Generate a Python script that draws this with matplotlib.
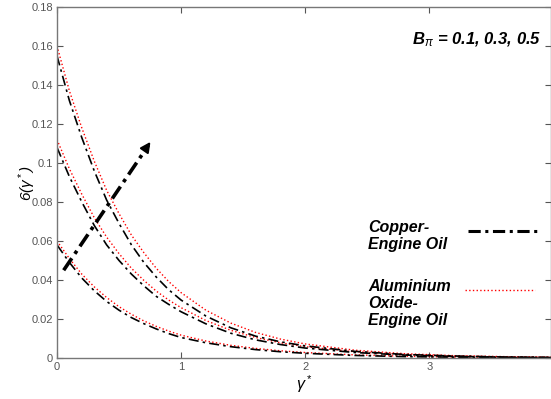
import matplotlib
matplotlib.use('Agg')
import matplotlib.pyplot as plt

plt.rcParams['font.family'] = ['Liberation Sans', 'DejaVu Sans']
plt.rcParams['mathtext.fontset'] = 'custom'
plt.rcParams['mathtext.rm'] = 'Liberation Sans'
plt.rcParams['mathtext.it'] = 'Liberation Sans:italic'
plt.rcParams['mathtext.bf'] = 'Liberation Sans:bold:italic'

# similarity variable
eta = [0, 0.1, 0.2, 0.3, 0.4, 0.5, 0.6, 0.7, 0.8, 0.9, 1.0,
       1.2, 1.4, 1.6, 1.8, 2.0, 2.4, 2.8, 3.2, 3.6, 4.0]

# Copper - Engine Oil, B = 0.1, 0.3, 0.5
cu_01 = [0.058, 0.049, 0.041, 0.0345, 0.029, 0.0245, 0.0207, 0.0176, 0.0149, 0.0125, 0.0105,
         0.0078, 0.0058, 0.0043, 0.0032, 0.0024, 0.0013, 0.0007, 0.0004, 0.0002, 0.0001]
cu_03 = [0.108, 0.093, 0.080, 0.068, 0.058, 0.050, 0.043, 0.037, 0.0316, 0.0275, 0.0237,
         0.0175, 0.0127, 0.0093, 0.0069, 0.0051, 0.0028, 0.0015, 0.0008, 0.0004, 0.0002]
cu_05 = [0.155, 0.132, 0.113, 0.096, 0.081, 0.069, 0.058, 0.049, 0.0415, 0.035, 0.0297,
         0.0215, 0.0155, 0.0112, 0.0083, 0.0062, 0.0034, 0.0018, 0.0010, 0.0005, 0.0003]

# Aluminium Oxide - Engine Oil, B = 0.1, 0.3, 0.5
al_01 = [0.060, 0.051, 0.043, 0.0365, 0.031, 0.0263, 0.0224, 0.019, 0.0162, 0.0138, 0.0117,
         0.0087, 0.0065, 0.0049, 0.0037, 0.0028, 0.0016, 0.0009, 0.0005, 0.0003, 0.0002]
al_03 = [0.112, 0.097, 0.084, 0.072, 0.062, 0.0535, 0.046, 0.0398, 0.0343, 0.0297, 0.0258,
         0.0192, 0.0142, 0.0105, 0.0078, 0.0058, 0.0032, 0.0018, 0.0010, 0.0005, 0.0003]
al_05 = [0.160, 0.137, 0.118, 0.101, 0.086, 0.074, 0.063, 0.054, 0.046, 0.0392, 0.0335,
         0.0245, 0.0179, 0.0131, 0.0097, 0.0072, 0.0040, 0.0022, 0.0012, 0.0007, 0.0004]

# direction of increasing B
arrow_start = (0.054, 0.045)
arrow_end = (0.766, 0.112)

fig = plt.figure(figsize=(5.51, 3.99), dpi=100)
ax = fig.add_axes([0.1034, 0.1028, 0.8966, 0.8797])

for al in (al_01, al_03, al_05):
    ax.plot(eta, al, color='red', linestyle=':', linewidth=1.0)
for cu in (cu_01, cu_03, cu_05):
    ax.plot(eta, cu, color='black', linestyle=(0, (6, 2.5, 1.5, 2.5)), linewidth=1.2)

# arrow: dash-dot shaft with a solid head
ax.plot([arrow_start[0], arrow_end[0] - 0.03], [arrow_start[1], arrow_end[1] - 0.003],
        color='black', linestyle=(0, (4, 1.5, 1, 1.5)), linewidth=2.6)
ax.annotate('', xy=arrow_end, xytext=(arrow_end[0] - 0.06, arrow_end[1] - 0.0055),
            arrowprops=dict(arrowstyle='-|>', color='black', lw=1.5, mutation_scale=15))

ax.set_xlim(0, 3.98)
ax.set_ylim(0, 0.18)
ax.set_xticks([0, 1, 2, 3])
ax.set_yticks([0, 0.02, 0.04, 0.06, 0.08, 0.1, 0.12, 0.14, 0.16, 0.18])
ax.set_yticklabels(['0', '0.02', '0.04', '0.06', '0.08', '0.1', '0.12', '0.14', '0.16', '0.18'])
ax.tick_params(direction='in', length=4, width=0.8, top=True, right=True,
               labelsize=8, labelcolor='#555555', color='#555555', pad=3)
for s in ax.spines.values():
    s.set_color('#777777')
    s.set_linewidth(1.0)

ax.set_xlabel(r'$\gamma^*$', fontsize=11.5, labelpad=1)
ax.set_ylabel(r'6($\gamma^*$)', fontsize=11, fontstyle='italic')
ax.yaxis.set_label_coords(-0.038, 0.5)

ax.text(0.718, 0.907, r'$\mathbf{B}_{\pi}$ = 0.1, 0.3, 0.5', transform=ax.transAxes,
        fontsize=12, fontweight='bold', fontstyle='italic', ha='left', va='center')

# legend entries, text on the left and line samples on the right
ax.text(0.63, 0.393, 'Copper-\nEngine Oil', transform=ax.transAxes, fontsize=11.5,
        fontweight='bold', fontstyle='italic', ha='left', va='top', linespacing=1.2)
ax.plot([0.832, 0.974], [0.362, 0.362], transform=ax.transAxes, color='black',
        linestyle=(0, (4, 1.5, 1, 1.5)), linewidth=2.2)
ax.text(0.63, 0.226, 'Aluminium\nOxide-\nEngine Oil', transform=ax.transAxes, fontsize=11.5,
        fontweight='bold', fontstyle='italic', ha='left', va='top', linespacing=1.2)
ax.plot([0.826, 0.968], [0.194, 0.194], transform=ax.transAxes, color='red',
        linestyle=':', linewidth=1.0)

fig.savefig('out.png', dpi=100)
